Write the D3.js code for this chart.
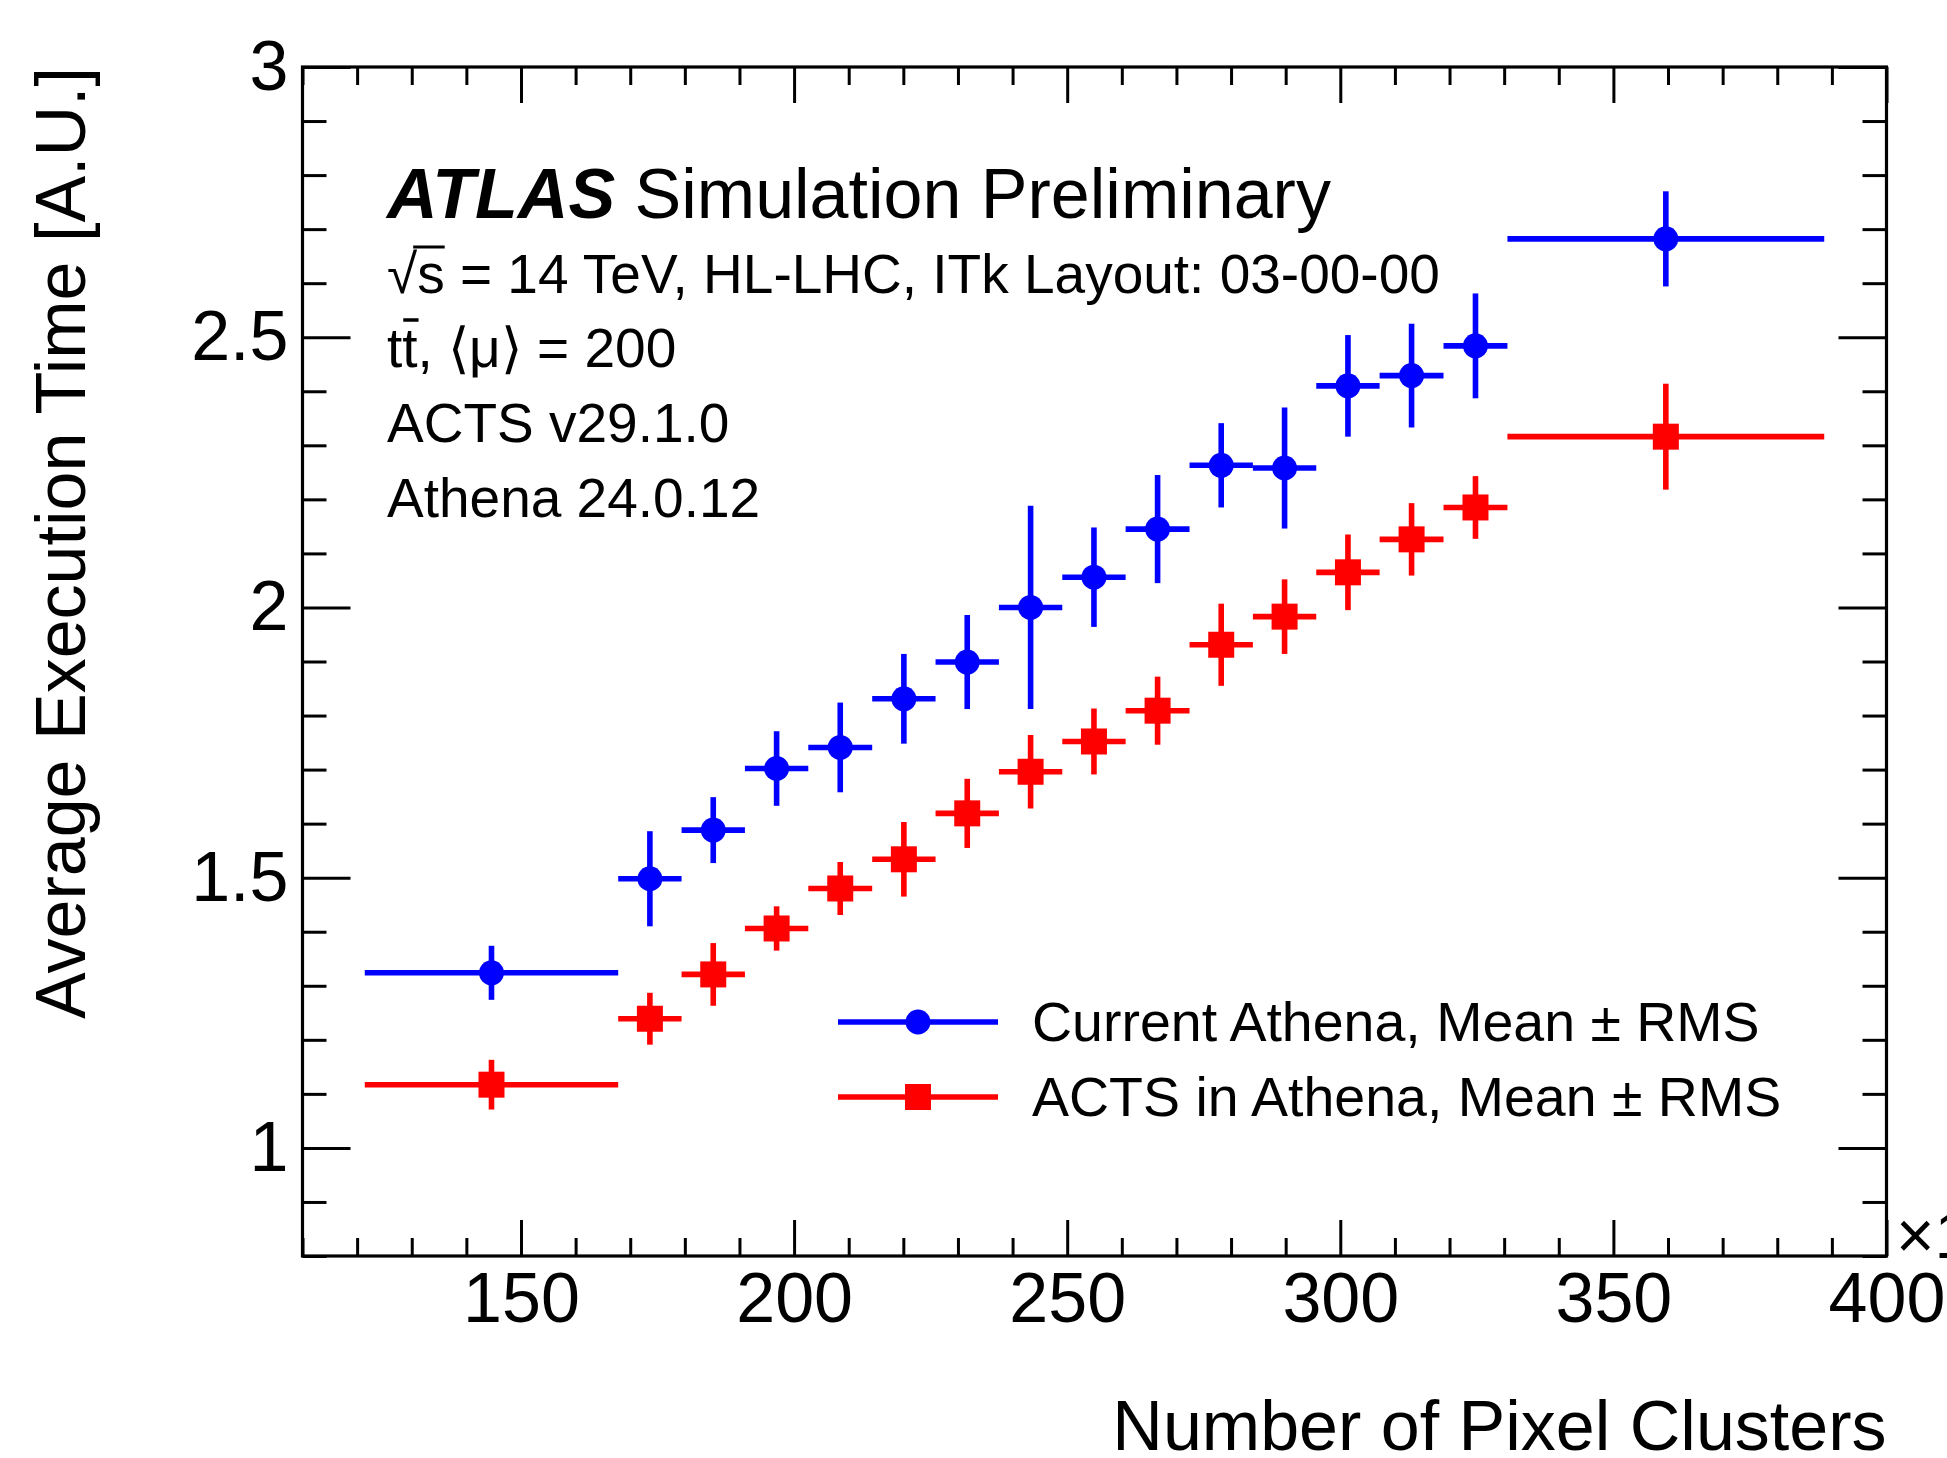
<!DOCTYPE html>
<html>
<head>
<meta charset="utf-8">
<script src="https://cdn.jsdelivr.net/npm/d3@7"></script>
<style>
  body { margin: 0; background: #fff; }
  svg { display: block; font-family: "Liberation Sans", Arial, Helvetica, sans-serif; }
</style>
</head>
<body>
<div id="chart"></div>
<script>
// Bin edges (number of pixel clusters, x10^3)
const binLow  = [121.4, 167.8, 179.4, 191.0, 202.6, 214.3, 225.9, 237.5, 249.1, 260.7, 272.4, 284.0, 295.6, 307.2, 318.9, 330.6];
const binHigh = [167.8, 179.4, 191.0, 202.6, 214.3, 225.9, 237.5, 249.1, 260.7, 272.4, 284.0, 295.6, 307.2, 318.9, 330.6, 388.6];

// Current Athena: mean and RMS
const athenaMean = [1.324, 1.498, 1.588, 1.702, 1.741, 1.831, 1.899, 2.000, 2.056, 2.145, 2.263, 2.258, 2.410, 2.429, 2.484, 2.682];
const athenaRms  = [0.050, 0.088, 0.061, 0.069, 0.083, 0.083, 0.087, 0.188, 0.092, 0.100, 0.078, 0.112, 0.094, 0.096, 0.097, 0.088];

// ACTS in Athena: mean and RMS
const actsMean = [1.117, 1.239, 1.321, 1.406, 1.480, 1.534, 1.619, 1.696, 1.752, 1.809, 1.931, 1.983, 2.065, 2.126, 2.185, 2.316];
const actsRms  = [0.046, 0.048, 0.058, 0.041, 0.049, 0.069, 0.064, 0.068, 0.061, 0.063, 0.076, 0.069, 0.070, 0.067, 0.058, 0.098];

// Axis ticks
const xMajorTicks = [150, 200, 250, 300, 350, 400];
const yMajorTicks = [1, 1.5, 2, 2.5, 3];

const seriesNames = ["Current Athena, Mean \u00B1 RMS", "ACTS in Athena, Mean \u00B1 RMS"];
const seriesColors = ["#0000ff", "#ff0000"];

const width = 1947, height = 1458;
const frame = { left: 302.5, right: 1886.5, top: 67, bottom: 1256 };

const svg = d3.select("#chart").append("svg")
    .attr("width", width)
    .attr("height", height);

svg.append("rect").attr("width", width).attr("height", height).attr("fill", "#fff");

const x = d3.scaleLinear().domain([110, 400]).range([frame.left, frame.right]);
const y = d3.scaleLinear().domain([0.8, 3]).range([frame.bottom, frame.top]);

const xMinor = d3.range(110, 401, 10).filter(v => !xMajorTicks.includes(v));
const yMinor = d3.range(8, 31, 1).map(v => v / 10).filter(v => !yMajorTicks.includes(v));

// Axes: ticks point inward on all four sides
function styleAxis(g) {
    g.select(".domain").remove();
    g.selectAll(".tick line").attr("stroke", "#000").attr("stroke-width", 3);
    g.selectAll(".tick text").attr("fill", "#000").attr("font-size", 70)
        .attr("font-family", "Liberation Sans, Arial, sans-serif");
}

// bottom
svg.append("g").attr("transform", `translate(0,${frame.bottom})`)
    .call(d3.axisBottom(x).tickValues(xMajorTicks).tickSizeInner(-36).tickSizeOuter(0).tickPadding(16).tickFormat(d3.format("d")))
    .call(styleAxis);
svg.append("g").attr("transform", `translate(0,${frame.bottom})`)
    .call(d3.axisBottom(x).tickValues(xMinor).tickSizeInner(-18).tickSizeOuter(0).tickFormat(""))
    .call(styleAxis);
// top
svg.append("g").attr("transform", `translate(0,${frame.top})`)
    .call(d3.axisTop(x).tickValues(xMajorTicks).tickSizeInner(-36).tickSizeOuter(0).tickFormat(""))
    .call(styleAxis);
svg.append("g").attr("transform", `translate(0,${frame.top})`)
    .call(d3.axisTop(x).tickValues(xMinor).tickSizeInner(-18).tickSizeOuter(0).tickFormat(""))
    .call(styleAxis);
// left
svg.append("g").attr("transform", `translate(${frame.left},0)`)
    .call(d3.axisLeft(y).tickValues(yMajorTicks).tickSizeInner(-48).tickSizeOuter(0).tickPadding(14).tickFormat(d => String(d)))
    .call(styleAxis);
svg.append("g").attr("transform", `translate(${frame.left},0)`)
    .call(d3.axisLeft(y).tickValues(yMinor).tickSizeInner(-24).tickSizeOuter(0).tickFormat(""))
    .call(styleAxis);
// right
svg.append("g").attr("transform", `translate(${frame.right},0)`)
    .call(d3.axisRight(y).tickValues(yMajorTicks).tickSizeInner(-48).tickSizeOuter(0).tickFormat(""))
    .call(styleAxis);
svg.append("g").attr("transform", `translate(${frame.right},0)`)
    .call(d3.axisRight(y).tickValues(yMinor).tickSizeInner(-24).tickSizeOuter(0).tickFormat(""))
    .call(styleAxis);

// frame
svg.append("rect")
    .attr("x", frame.left).attr("y", frame.top)
    .attr("width", frame.right - frame.left).attr("height", frame.bottom - frame.top)
    .attr("fill", "none").attr("stroke", "#000").attr("stroke-width", 3.2);

// x10^3 multiplier (runs off the page edge like in the original)
svg.append("text")
    .attr("x", 1896).attr("y", 1258)
    .attr("font-size", 66)
    .text("\u00D710");

// axis titles
svg.append("text")
    .attr("x", frame.right).attr("y", 1450)
    .attr("text-anchor", "end")
    .attr("font-size", 70)
    .text("Number of Pixel Clusters");

svg.append("text")
    .attr("transform", `translate(85,${frame.top}) rotate(-90)`)
    .attr("text-anchor", "end")
    .attr("font-size", 70)
    .text("Average Execution Time [A.U.]");

// data series
const series = [
    { mean: athenaMean, rms: athenaRms, color: seriesColors[0], marker: "circle" },
    { mean: actsMean, rms: actsRms, color: seriesColors[1], marker: "square" }
];

series.forEach(s => {
    const pts = s.mean.map((m, i) => ({
        lo: binLow[i], hi: binHigh[i], xc: (binLow[i] + binHigh[i]) / 2, m: m, e: s.rms[i]
    }));
    const g = svg.append("g");

    g.selectAll(".hbar").data(pts).enter().append("line")
        .attr("x1", d => x(d.lo)).attr("x2", d => x(d.hi))
        .attr("y1", d => y(d.m)).attr("y2", d => y(d.m))
        .attr("stroke", s.color).attr("stroke-width", 5.6);

    g.selectAll(".vbar").data(pts).enter().append("line")
        .attr("x1", d => x(d.xc)).attr("x2", d => x(d.xc))
        .attr("y1", d => y(d.m - d.e)).attr("y2", d => y(d.m + d.e))
        .attr("stroke", s.color).attr("stroke-width", 5.6);

    if (s.marker === "circle") {
        g.selectAll(".mk").data(pts).enter().append("circle")
            .attr("cx", d => x(d.xc)).attr("cy", d => y(d.m))
            .attr("r", 12.5).attr("fill", s.color);
    } else {
        g.selectAll(".mk").data(pts).enter().append("rect")
            .attr("x", d => x(d.xc) - 13).attr("y", d => y(d.m) - 13)
            .attr("width", 26).attr("height", 26).attr("fill", s.color);
    }
});

// legend
const legend = svg.append("g")
    .selectAll("g")
    .data(series)
    .enter().append("g")
    .attr("transform", (d, i) => `translate(0,${1022 + i * 75})`);

legend.append("line")
    .attr("x1", 838).attr("x2", 998).attr("y1", 0).attr("y2", 0)
    .attr("stroke", d => d.color).attr("stroke-width", 5.6);

legend.filter(d => d.marker === "circle").append("circle")
    .attr("cx", 918).attr("cy", 0).attr("r", 12.5).attr("fill", d => d.color);
legend.filter(d => d.marker === "square").append("rect")
    .attr("x", 905).attr("y", -13).attr("width", 26).attr("height", 26).attr("fill", d => d.color);

legend.append("text")
    .attr("x", 1032).attr("y", 19)
    .attr("font-size", 55.5)
    .text((d, i) => seriesNames[i]);

// ATLAS label block
const label = svg.append("g");
const atlas = label.append("text").attr("x", 387).attr("y", 218).attr("font-size", 70);
atlas.append("tspan").attr("font-weight", "bold").attr("font-style", "italic").text("ATLAS");
atlas.append("tspan").text(" Simulation Preliminary");

const l2 = label.append("text").attr("x", 387).attr("y", 293).attr("font-size", 55)
    .text("\u221As = 14 TeV, HL-LHC, ITk Layout: 03-00-00");
const l3 = label.append("text").attr("x", 387).attr("y", 367).attr("font-size", 55)
    .text("tt, \u27E8\u03BC\u27E9 = 200");

// bar of the square root over "s"
const rad = l2.node().getExtentOfChar(0);
const sChar = l2.node().getExtentOfChar(1);
label.append("line")
    .attr("x1", rad.x + rad.width - 4).attr("x2", sChar.x + sChar.width)
    .attr("y1", 293 - 46).attr("y2", 293 - 46)
    .attr("stroke", "#000").attr("stroke-width", 3);

// bar over the anti-top "t"
const tBar = l3.node().getExtentOfChar(1);
label.append("line")
    .attr("x1", tBar.x + 1).attr("x2", tBar.x + tBar.width + 1)
    .attr("y1", 367 - 47).attr("y2", 367 - 47)
    .attr("stroke", "#000").attr("stroke-width", 3.5);

label.append("text").attr("x", 387).attr("y", 442).attr("font-size", 55).text("ACTS v29.1.0");
label.append("text").attr("x", 387).attr("y", 517).attr("font-size", 55).text("Athena 24.0.12");
</script>
</body>
</html>
